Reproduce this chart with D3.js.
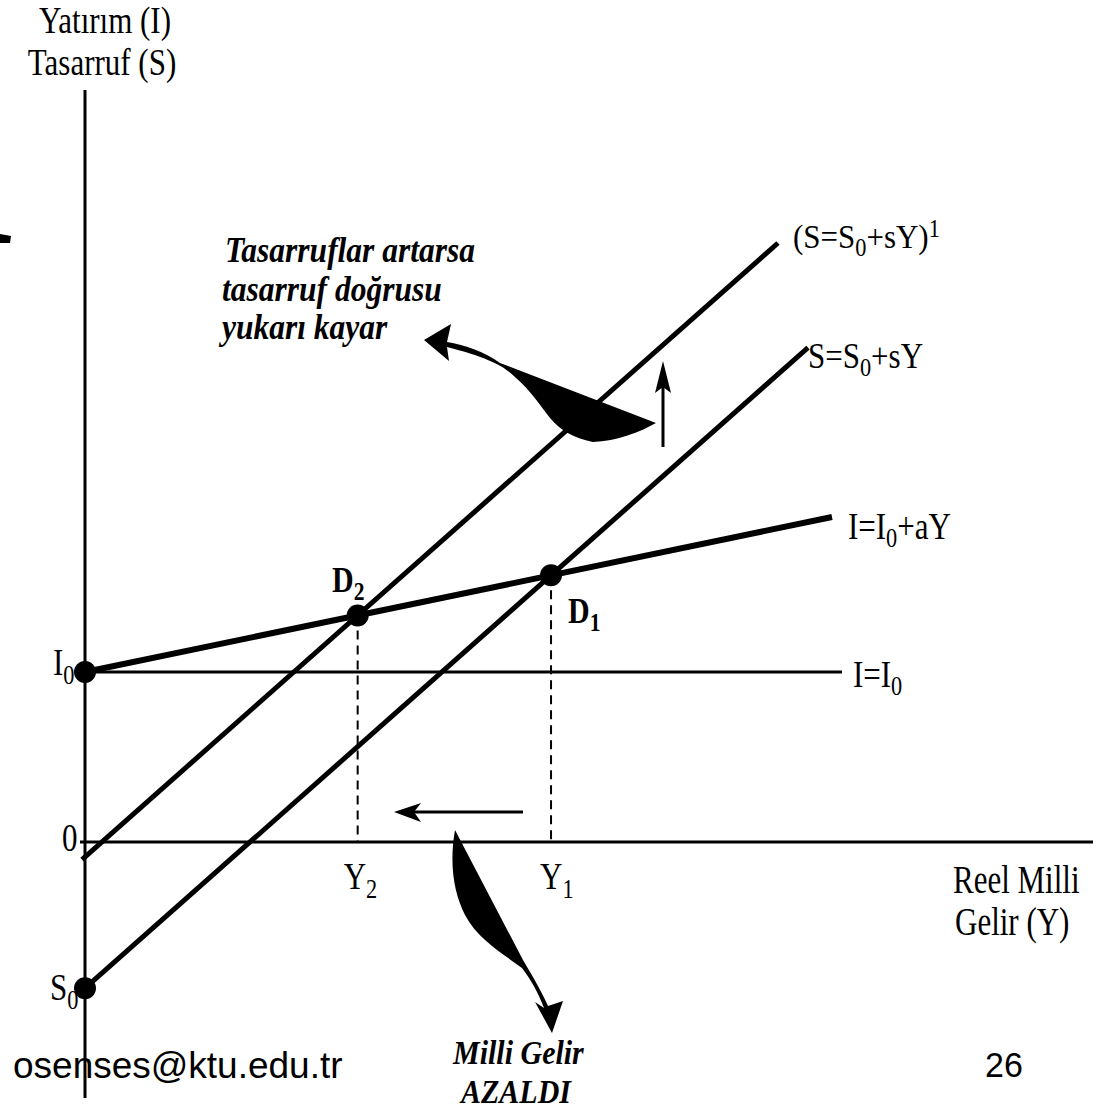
<!DOCTYPE html>
<html>
<head>
<meta charset="utf-8">
<script src="https://cdn.jsdelivr.net/npm/d3@7"></script>
<style>
  body { margin: 0; background: #fff; }
  .serif { font-family: "Liberation Serif", "Times New Roman", serif; font-size: 31px; fill: #000; }
  .bi { font-family: "Liberation Serif", "Times New Roman", serif; font-size: 30px; font-weight: bold; font-style: italic; fill: #000; }
  .bi2 { font-family: "Liberation Serif", "Times New Roman", serif; font-size: 31.5px; font-weight: bold; font-style: italic; fill: #000; }
  .bold { font-family: "Liberation Serif", "Times New Roman", serif; font-size: 30px; font-weight: bold; fill: #000; }
  .sans { font-family: "Liberation Sans", Arial, sans-serif; font-size: 34px; fill: #000; }
  .sans2 { font-family: "Liberation Sans", Arial, sans-serif; font-size: 37px; fill: #000; }
</style>
</head>
<body>
<div id="chart"></div>
<script>
// model parameters (units of the diagram)
const I0 = 1.7;        // autonomous investment
const aSlope = 0.2075; // marginal propensity to invest
const sSlope = 0.886;  // marginal propensity to save
const S0 = -1.462;     // autonomous saving (original)
const S0up = -0.15;    // autonomous saving after the upward shift

// lines: label, intercept, slope, start Y, end Y
const lineLabels = ["I=I_0", "I=I_0+aY", "S=S_0+sY", "(S=S_0+sY)^1"];
const lineIntercepts = [I0, I0, S0, S0up];
const lineSlopes = [0, aSlope, sSlope, sSlope];
const lineStart = [0, 0, 0, -0.03];
const lineEnd = [7.57, 7.47, 7.23, 6.93];
const lineWidths = [3, 6, 5, 5];

const width = 1099, height = 1112;
const svg = d3.select("#chart").append("svg").attr("width", width).attr("height", height);

const x = d3.scaleLinear().domain([0, 10]).range([85, 1085]);
const y = d3.scaleLinear().domain([0, 1]).range([842, 742]);

// equilibrium points
const Y1 = (I0 - S0) / (sSlope - aSlope);
const Y2 = (I0 - S0up) / (sSlope - aSlope);
const eq = [
  { name: "D_1", Y: Y1, v: I0 + aSlope * Y1 },
  { name: "D_2", Y: Y2, v: I0 + aSlope * Y2 }
];

function addLabel(x0, y0, str, cls, sy, anchor) {
  const t = svg.append("text")
    .attr("class", cls)
    .attr("transform", `translate(${x0},${y0}) scale(1,${sy})`)
    .attr("text-anchor", anchor || "start");
  let shift = 0;
  let i = 0;
  while (i < str.length) {
    let ch = str[i];
    if (ch === "_" || ch === "^") {
      const target = ch === "_" ? 7 : -10;
      const c = str[i + 1];
      t.append("tspan").attr("dy", target - shift).style("font-size", "0.72em").text(c);
      shift = target;
      i += 2;
    } else {
      let j = i;
      while (j < str.length && str[j] !== "_" && str[j] !== "^") j++;
      t.append("tspan").attr("dy", -shift).text(str.slice(i, j));
      shift = 0;
      i = j;
    }
  }
  return t;
}

// axes
svg.append("line").attr("x1", x(0)).attr("x2", x(0)).attr("y1", 90).attr("y2", 1098)
  .attr("stroke", "#000").attr("stroke-width", 3);
svg.append("line").attr("x1", x(-0.05)).attr("x2", x(10.08)).attr("y1", y(0)).attr("y2", y(0))
  .attr("stroke", "#000").attr("stroke-width", 3);

// dashed drops
svg.selectAll(".drop").data(eq).enter().append("line")
  .attr("x1", d => x(d.Y)).attr("x2", d => x(d.Y))
  .attr("y1", d => y(d.v)).attr("y2", y(0))
  .attr("stroke", "#000").attr("stroke-width", 2).attr("stroke-dasharray", "9,6");

// investment / saving lines
lineLabels.forEach((lab, i) => {
  const f = v => lineIntercepts[i] + lineSlopes[i] * v;
  svg.append("line")
    .attr("x1", x(lineStart[i])).attr("y1", y(f(lineStart[i])))
    .attr("x2", x(lineEnd[i])).attr("y2", y(f(lineEnd[i])))
    .attr("stroke", "#000").attr("stroke-width", lineWidths[i]);
});

// points
const dots = [[0, I0], [0, S0], [Y1, eq[0].v], [Y2, eq[1].v]];
svg.selectAll(".dot").data(dots).enter().append("circle")
  .attr("cx", d => x(d[0])).attr("cy", d => y(d[1])).attr("r", 11).attr("fill", "#000");

// line labels
addLabel(793, 248, "(S=S_0+sY)^1", "serif", 1.1);
addLabel(808, 368, "S=S_0+sY", "serif", 1.15);
addLabel(848, 539, "I=I_0+aY", "serif", 1.2);
addLabel(853, 687, "I=I_0", "serif", 1.2);

// axis labels
addLabel(105, 33, "Yatırım (I)", "serif", 1.2, "middle");
addLabel(102, 75, "Tasarruf (S)", "serif", 1.2, "middle");
addLabel(953, 893, "Reel Milli", "serif", 1.3);
addLabel(955, 935, "Gelir (Y)", "serif", 1.3);
addLabel(62, 851, "0", "serif", 1.3);
addLabel(53, 675, "I_0", "serif", 1.25);
addLabel(50, 1000, "S_0", "serif", 1.25);
addLabel(x(Y2) - 14, 889, "Y_2", "serif", 1.25);
addLabel(x(Y1) - 11, 889, "Y_1", "serif", 1.25);
addLabel(332, 592, "D_2", "bold", 1.2);
addLabel(568, 623, "D_1", "bold", 1.2);

// annotations
addLabel(225, 262, "Tasarruflar artarsa", "bi2", 1.12);
addLabel(222, 301, "tasarruf doğrusu", "bi2", 1.12);
addLabel(222, 339, "yukarı kayar", "bi2", 1.12);
addLabel(453, 1064, "Milli Gelir", "bi", 1.15);
addLabel(461, 1103, "AZALDI", "bi", 1.15);

// footer
addLabel(13, 1078, "osenses@ktu.edu.tr", "sans2", 1.02);
addLabel(985, 1077, "26", "sans", 1.05);

// curved blob arrows
svg.append("path")
  .attr("d", "M424,340 L451,324 L447,342 C465,345 485,352 500,363 L656,423 C640,432 617,441 593,442 C573,438 560,430 550,418 C540,405 530,390 515,377 C505,367 490,358 447,347 L449,361 Z")
  .attr("fill", "#000");
svg.append("path")
  .attr("d", "M455,830 L523,960 C530,972 540,988 548,1006 L563,1001 L552,1033 L535,1002 L544,1008 C538,992 531,980 522,968 C505,955 478,940 465,915 C454,893 449,865 455,830 Z")
  .attr("fill", "#000");

// straight arrows
svg.append("line").attr("x1", 663).attr("x2", 663).attr("y1", 447).attr("y2", 385)
  .attr("stroke", "#000").attr("stroke-width", 3);
svg.append("path").attr("d", "M663,361 L671,393 L663,387 L655,393 Z").attr("fill", "#000");
svg.append("line").attr("x1", 523).attr("x2", 412).attr("y1", 812).attr("y2", 812)
  .attr("stroke", "#000").attr("stroke-width", 3);
svg.append("path").attr("d", "M394,812 L421,803 L414,812 L421,822 Z").attr("fill", "#000");

// stray mark at the left edge
svg.append("path").attr("d", "M0,234 L11,236 L10,243 L0,243 Z").attr("fill", "#000");
</script>
</body>
</html>
